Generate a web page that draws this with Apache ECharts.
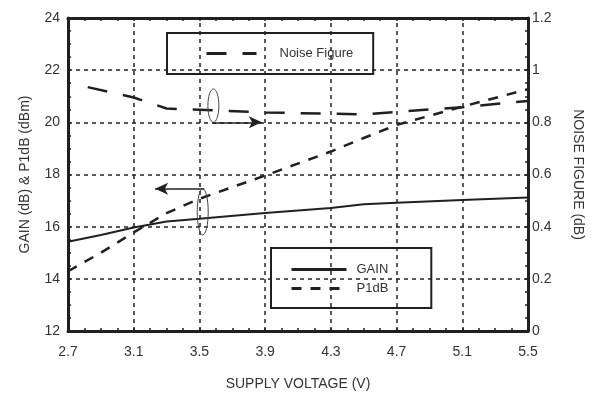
<!DOCTYPE html>
<html>
<head>
<meta charset="utf-8">
<script src="https://cdn.jsdelivr.net/npm/echarts@6/dist/echarts.min.js"></script>
<style>
    html, body { margin: 0; padding: 0; background: #fff; }
    #chart { width: 595px; height: 400px; }
</style>
</head>
<body>
<div id="chart"></div>
<script>
// 数据
var voltGain = [2.7, 2.9, 3.1, 3.3, 3.5, 3.9, 4.3, 4.5, 4.7, 5.1, 5.5];
var gain     = [15.42, 15.68, 15.97, 16.2, 16.3, 16.52, 16.72, 16.86, 16.92, 17.02, 17.12];
var p1db     = [14.29, 15.0, 15.78, 16.52, 17.07, 17.96, 18.88, 19.4, 19.9, 20.6, 21.27];
var voltNf   = [2.82, 3.1, 3.3, 3.5, 3.9, 4.3, 4.5, 4.7, 5.1, 5.5];
var noiseFig = [0.935, 0.895, 0.853, 0.848, 0.838, 0.833, 0.83, 0.84, 0.858, 0.882];
var xTickLabels = [2.7, 3.1, 3.5, 3.9, 4.3, 4.7, 5.1, 5.5];
var xGridLines  = [3.1, 3.5, 3.9, 4.3, 4.7, 5.1];
// 注释: 箭头 [起点, 终点] 与 椭圆 [x, yTop, yBottom] (左轴单位)
var arrowNf   = [[3.58, 20.0], [3.88, 20.0]];
var arrowGain = [[3.53, 17.45], [3.23, 17.45]];
var ellipseNf   = [3.585, 21.28, 20.0];
var ellipseGain = [3.52, 17.45, 15.68];

var ink = '#231f20';
var txt = '#333';
var font = 'Liberation Sans, Arial, sans-serif';

function pairs(xs, ys) {
    var out = [];
    for (var i = 0; i < xs.length; i++) out.push([xs[i], ys[i]]);
    return out;
}

var chart = echarts.init(document.getElementById('chart'));

var tickStyle = { show: true, inside: true, length: 3, lineStyle: { color: ink, width: 1.5 } };

var option = {
    animation: false,
    textStyle: { fontFamily: font },
    grid: { left: 68, right: 67, top: 18, bottom: 69, containLabel: false },
    legend: [
        {
            data: ['Noise Figure'],
            left: 167, top: 33,
            padding: [14, 20, 14, 38],
            itemWidth: 50, itemHeight: 14,
            itemStyle: { opacity: 0 },
            lineStyle: { width: 3 },
            borderColor: ink, borderWidth: 2,
            textStyle: { color: txt, fontSize: 13, fontFamily: font, padding: [0, 0, 0, 18] }
        },
        {
            data: ['GAIN', 'P1dB'],
            orient: 'vertical',
            left: 271, top: 248,
            padding: [15, 43, 13, 19],
            itemWidth: 55, itemHeight: 14, itemGap: 6,
            itemStyle: { opacity: 0 },
            lineStyle: { width: 3 },
            borderColor: ink, borderWidth: 2,
            textStyle: { color: txt, fontSize: 13, fontFamily: font, padding: [0, 0, 0, 5] }
        }
    ],
    xAxis: [
        {
            type: 'value', position: 'bottom',
            min: 2.7, max: 5.5, interval: 0.1,
            name: 'SUPPLY VOLTAGE (V)', nameLocation: 'middle', nameGap: 46,
            nameTextStyle: { color: txt, fontSize: 14, fontFamily: font },
            axisLine: { show: true, lineStyle: { color: ink, width: 3 } },
            axisTick: tickStyle,
            axisLabel: {
                customValues: xTickLabels,
                color: txt, fontSize: 14, fontFamily: font, margin: 14,
                formatter: function (v) { return v.toFixed(1); }
            },
            splitLine: { show: false }
        },
        {
            type: 'value', position: 'top',
            min: 2.7, max: 5.5, interval: 0.1,
            axisLine: { show: true, lineStyle: { color: ink, width: 3 } },
            axisTick: tickStyle,
            axisLabel: { show: false },
            splitLine: { show: false }
        }
    ],
    yAxis: [
        {
            type: 'value', position: 'left',
            min: 12, max: 24, interval: 2,
            name: 'GAIN (dB) & P1dB (dBm)', nameLocation: 'middle', nameGap: 36, nameRotate: 90,
            nameTextStyle: { color: txt, fontSize: 14, fontFamily: font },
            axisLine: { show: true, lineStyle: { color: ink, width: 3 } },
            axisTick: tickStyle,
            minorTick: { show: true, splitNumber: 4, length: 3, lineStyle: { color: ink, width: 1.5 } },
            axisLabel: { color: txt, fontSize: 14, fontFamily: font, margin: 8 },
            splitLine: { show: true, lineStyle: { color: ink, width: 1.5, type: [4, 4] } }
        },
        {
            type: 'value', position: 'right',
            min: 0, max: 1.2, interval: 0.2,
            name: 'NOISE FIGURE (dB)', nameLocation: 'middle', nameGap: 43, nameRotate: -90,
            nameTextStyle: { color: txt, fontSize: 14, fontFamily: font },
            axisLine: { show: true, lineStyle: { color: ink, width: 3 } },
            axisTick: tickStyle,
            minorTick: { show: true, splitNumber: 4, length: 3, lineStyle: { color: ink, width: 1.5 } },
            axisLabel: {
                color: txt, fontSize: 14, fontFamily: font, margin: 4,
                formatter: function (v) { return String(Math.round(v * 10) / 10); }
            },
            splitLine: { show: false }
        }
    ],
    series: [
        {
            name: 'GAIN', type: 'line', xAxisIndex: 0, yAxisIndex: 0,
            data: pairs(voltGain, gain),
            symbol: 'none',
            lineStyle: { color: ink, width: 2, type: 'solid' },
            itemStyle: { color: ink },
            markLine: {
                silent: true, symbol: ['none', 'none'], label: { show: false },
                lineStyle: { color: ink, width: 1.5, type: [4, 4] },
                data: xGridLines.map(function (v) { return { xAxis: v }; })
            },
            z: 3
        },
        {
            name: 'P1dB', type: 'line', xAxisIndex: 0, yAxisIndex: 0,
            data: pairs(voltGain, p1db),
            symbol: 'none',
            lineStyle: { color: ink, width: 2.5, type: [10, 9] },
            itemStyle: { color: ink },
            markLine: {
                silent: true, symbol: ['none', 'arrow'], symbolSize: [9, 13],
                label: { show: false },
                lineStyle: { color: ink, width: 1.5, type: 'solid' },
                data: [
                    [{ coord: arrowNf[0] }, { coord: arrowNf[1] }],
                    [{ coord: arrowGain[0] }, { coord: arrowGain[1] }]
                ]
            },
            z: 3
        },
        {
            name: 'Noise Figure', type: 'line', xAxisIndex: 0, yAxisIndex: 1,
            data: pairs(voltNf, noiseFig),
            symbol: 'none',
            lineStyle: { color: ink, width: 2.5, type: [20, 16] },
            itemStyle: { color: ink },
            z: 3
        }
    ]
};

chart.setOption(option);

// 椭圆注释: 用坐标轴换算位置
function ellipseAt(e) {
    var top = chart.convertToPixel({ xAxisIndex: 0, yAxisIndex: 0 }, [e[0], e[1]]);
    var bot = chart.convertToPixel({ xAxisIndex: 0, yAxisIndex: 0 }, [e[0], e[2]]);
    return {
        type: 'ellipse',
        shape: { cx: top[0], cy: (top[1] + bot[1]) / 2, rx: 5.5, ry: Math.abs(bot[1] - top[1]) / 2 },
        style: { fill: 'none', stroke: '#444', lineWidth: 1 },
        z: 10
    };
}

chart.setOption({ graphic: [ellipseAt(ellipseNf), ellipseAt(ellipseGain)] });
</script>
</body>
</html>
